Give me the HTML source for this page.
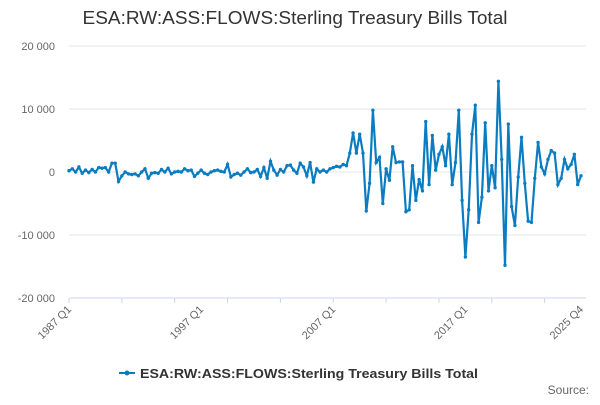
<!DOCTYPE html>
<html><head><meta charset="utf-8"><style>
body{margin:0;background:#fff;font-family:"Liberation Sans",sans-serif;}
svg text{font-family:"Liberation Sans",sans-serif;}
</style></head><body>
<svg id="chart" width="600" height="400">
<text x="295" y="24" text-anchor="middle" font-size="18" fill="#333" textLength="425" lengthAdjust="spacingAndGlyphs">ESA:RW:ASS:FLOWS:Sterling Treasury Bills Total</text>
<g id="grid"></g><g id="xaxis"></g><g id="series"></g>
<g>
<line x1="119" y1="373" x2="135" y2="373" stroke="#0a7cc1" stroke-width="2"/>
<circle cx="127" cy="373" r="2.5" fill="#0a7cc1"/>
<text x="140" y="378" font-size="13" font-weight="bold" fill="#333" textLength="338" lengthAdjust="spacingAndGlyphs">ESA:RW:ASS:FLOWS:Sterling Treasury Bills Total</text>
</g>
<text x="589" y="394" text-anchor="end" font-size="12" fill="#666">Source:</text>
</svg>
<script>
const yTicks=[20000,10000,0,-10000,-20000];
const yTickLabels=["20 000","10 000","0","-10 000","-20 000"];
const xTickLabels=["1987 Q1","1997 Q1","2007 Q1","2017 Q1","2025 Q4"];
const xTickIndex=[0,40,80,120,155];
const values=[200,500,0,800,-200,300,-100,400,0,700,600,700,0,1400,1400,
-1500,-600,0,-300,-400,-300,-600,0,500,-1000,-200,-100,-200,400,0,
600,-300,0,100,0,500,200,300,-700,-200,300,-200,-400,0,200,
300,100,0,1200,-800,-400,-200,-500,0,500,-100,0,400,-700,700,
-1000,1700,300,-500,400,0,1000,1100,300,-200,1400,800,-600,1500,-1600,
500,0,300,0,500,700,900,800,1200,1000,
3000,6200,3000,6000,3000,-6200,-1800,9800,1500,2300,
-5000,500,-1300,4000,1500,1600,1600,-6300,-6000,1000,
-4500,-1200,-3000,8000,-2000,5800,300,2800,4000,1000,
6000,-2000,1500,9800,-4500,-13500,-6000,6000,10600,-8000,
-4000,7800,-3000,1000,-2500,14400,2000,-14800,7600,-5500,
-8500,-800,5500,-1800,-7800,-8000,-1000,4700,800,-300,
2000,3400,3000,-2000,-1000,2000,500,1200,2800,-2000,-600];
const NS="http://www.w3.org/2000/svg";
const x0=69,x1=581,yTop=46,yBot=298;
const xs=i=>x0+(x1-x0)*i/(values.length-1);
const ys=v=>yTop+(20000-v)/40000*(yBot-yTop);
function mk(t,a,p){const e=document.createElementNS(NS,t);for(const k in a)e.setAttribute(k,a[k]);p.appendChild(e);return e;}
const grid=document.getElementById('grid');
yTicks.forEach((v,k)=>{
 const l=mk('line',{x1:x0,x2:586,y1:ys(v),y2:ys(v),stroke:'#e6e6e6'},grid);
 
 
 const t=mk('text',{x:55,y:ys(v)+4,'text-anchor':'end','font-size':11,fill:'#666'},grid);
 t.textContent=yTickLabels[k];
 
 
});
const xa=document.getElementById('xaxis');
const ax=mk('line',{x1:x0,x2:586,y1:yBot,y2:yBot,stroke:'#ccd6eb'},xa);


for(let i=0;i<values.length;i+=16){const tk=mk('line',{x1:xs(i),x2:xs(i),y1:yBot,y2:yBot+5,stroke:'#ccd6eb'},xa);

}
xTickLabels.forEach((s,k)=>{
 const x=xs(xTickIndex[k]);
 const t=mk('text',{x:x+3,y:yBot+12,'text-anchor':'end','font-size':11,fill:'#666',transform:`rotate(-45 ${x+3} ${yBot+12})`},xa);
 t.textContent=s;
 
 
});
const sg=document.getElementById('series');
const p=mk('path',{d:values.map((v,i)=>(i?'L':'M')+xs(i).toFixed(1)+' '+ys(v).toFixed(1)).join(''),fill:'none',stroke:'#0a7cc1','stroke-width':2.2},sg);


values.forEach((v,i)=>{const c=mk('circle',{cx:xs(i),cy:ys(v),r:1.7,fill:'#0a7cc1'},sg);

});
</script>
</body></html>
